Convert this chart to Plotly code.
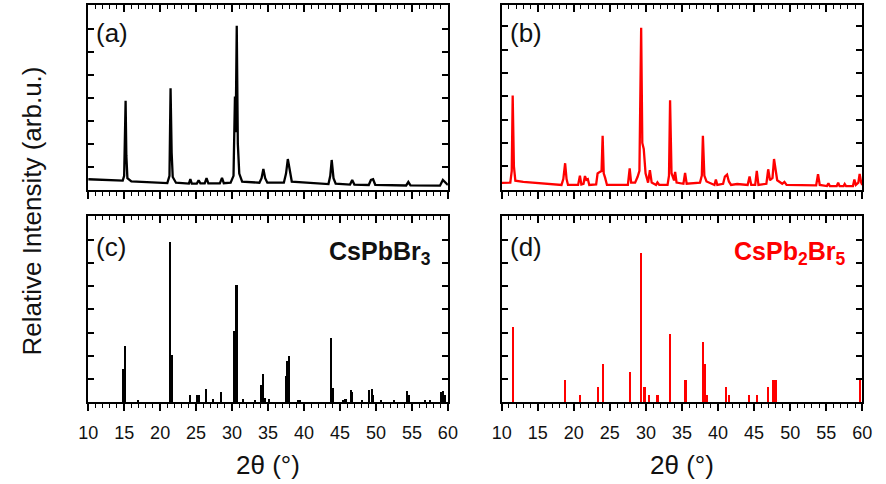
import plotly.graph_objects as go

# ---------------- data ----------------
# (a) CsPbBr3 measured pattern: 2theta (deg), relative intensity
a_x = [10.0, 12.0, 14.0, 14.8, 15.0, 15.12, 15.2, 15.3, 15.45, 16.0, 18.0, 20.0, 21.0, 21.3, 21.45, 21.6, 21.75,
       22.2, 23.5, 24.0, 24.2, 24.4, 25.1, 25.35, 25.6, 26.2, 26.45, 26.7, 28.3, 28.6, 28.85, 29.8, 30.2, 30.4,
       30.5, 30.65, 30.8, 31.0, 31.4, 33.8, 34.1, 34.35, 34.6, 34.9, 37.2, 37.5, 37.75, 38.0, 38.3, 43.4, 43.65,
       43.85, 44.1, 44.4, 46.4, 46.7, 47.0, 49.0, 49.3, 49.6, 49.9, 54.2, 54.5, 54.8, 58.9, 59.3, 59.7, 60.0]
a_y = [0.45, 0.43, 0.40, 0.39, 0.60, 3.20, 3.87, 1.50, 0.50, 0.36, 0.32, 0.28, 0.28, 0.60, 4.41, 1.60, 0.55,
       0.30, 0.25, 0.26, 0.46, 0.26, 0.26, 0.41, 0.27, 0.27, 0.50, 0.27, 0.27, 0.51, 0.28, 0.30, 0.60, 4.05,
       2.50, 7.14, 2.00, 0.70, 0.35, 0.30, 0.50, 0.90, 0.50, 0.30, 0.30, 0.70, 1.33, 0.80, 0.35, 0.24, 0.60,
       1.29, 0.50, 0.26, 0.22, 0.42, 0.22, 0.20, 0.42, 0.45, 0.21, 0.18, 0.33, 0.18, 0.17, 0.42, 0.28, 0.20]

# (b) CsPb2Br5 measured pattern
b_x = [10.0, 11.2, 11.4, 11.53, 11.7, 11.9, 13.0, 15.0, 17.0, 18.3, 18.55, 18.8, 19.0, 19.2, 20.6, 20.85, 21.05,
       21.35, 21.55, 21.75, 21.95, 22.15, 23.1, 23.3, 23.6, 23.85, 24.0, 24.15, 24.35, 24.6, 27.5, 27.75, 27.95,
       28.5, 28.85, 29.1, 29.34, 29.5, 29.7, 29.95, 30.3, 30.55, 30.8, 31.4, 31.6, 31.85, 33.0, 33.2, 33.35,
       33.55, 33.9, 34.05, 34.25, 35.2, 35.43, 35.65, 37.5, 37.75, 37.9, 38.1, 38.4, 39.5, 39.7, 39.9, 40.7,
       40.95, 41.25, 41.5, 41.8, 42.65, 44.1, 44.37, 44.6, 45.15, 45.37, 45.6, 46.7, 46.95, 47.2, 47.55, 47.76,
       47.95, 48.2, 48.9, 49.2, 49.5, 51.8, 53.6, 53.86, 54.1, 55.1, 55.3, 55.5, 56.45, 56.65, 56.85, 57.4,
       57.56, 57.75, 58.7, 58.9, 59.1, 59.45, 59.63, 59.85, 60.0]
b_y = [0.29, 0.30, 0.80, 4.03, 1.00, 0.38, 0.33, 0.28, 0.22, 0.20, 0.45, 1.13, 0.45, 0.20, 0.20, 0.60, 0.22,
       0.25, 0.58, 0.42, 0.45, 0.20, 0.22, 0.69, 0.76, 0.80, 2.31, 0.70, 0.50, 0.20, 0.20, 0.91, 0.30,
       0.30, 0.55, 0.80, 6.94, 2.00, 1.74, 0.70, 0.30, 0.83, 0.30, 0.20, 0.31, 0.20, 0.20, 0.60, 3.83,
       0.70, 0.40, 0.76, 0.30, 0.25, 0.71, 0.25, 0.30, 0.60, 2.31, 0.60, 0.35, 0.20, 0.43, 0.20, 0.25,
       0.56, 0.64, 0.35, 0.20, 0.24, 0.20, 0.56, 0.20, 0.20, 0.80, 0.20, 0.25, 0.87, 0.40, 0.50, 1.31,
       0.90, 0.40, 0.25, 0.33, 0.20, 0.18, 0.18, 0.66, 0.20, 0.15, 0.27, 0.15, 0.15, 0.30, 0.15, 0.15,
       0.24, 0.15, 0.15, 0.43, 0.20, 0.30, 0.67, 0.30, 0.20]

# (c) CsPbBr3 reference pattern (stick positions / heights)
c_pos = [14.85, 15.12, 17.0, 21.4, 21.64, 24.13, 25.1, 25.4, 26.35, 27.4, 28.5, 30.34, 30.65, 31.5, 33.27,
         34.05, 34.28, 34.55, 35.2, 37.5, 37.7, 37.9, 39.2, 39.5, 43.8, 44.1, 45.5, 45.8, 46.55, 46.75, 48.14,
         49.1, 49.45, 49.65, 50.7, 52.5, 54.35, 54.55, 56.8, 57.5, 59.1, 59.4, 59.6]
c_h = [1.42, 2.42, 0.05, 6.90, 2.03, 0.29, 0.29, 0.29, 0.55, 0.14, 0.42, 3.06, 5.05, 0.12, 0.10,
       0.72, 1.23, 0.18, 0.15, 1.13, 1.78, 2.00, 0.08, 0.08, 2.78, 0.61, 0.10, 0.12, 0.51, 0.44, 0.08,
       0.54, 0.55, 0.30, 0.05, 0.05, 0.46, 0.30, 0.08, 0.10, 0.44, 0.47, 0.31]

# (d) CsPb2Br5 reference pattern
d_pos = [11.53, 18.72, 20.8, 23.28, 24.0, 27.7, 29.24, 29.74, 30.37, 31.55, 33.3, 35.43, 37.82, 38.14, 38.4,
         41.07, 41.44, 44.28, 45.32, 46.86, 47.63, 47.9, 59.6]
d_h = [3.22, 0.97, 0.30, 0.65, 1.63, 1.30, 6.42, 0.65, 0.31, 0.31, 2.92, 0.97, 2.58, 1.63, 0.31,
       0.65, 0.31, 0.31, 0.31, 0.65, 0.97, 0.97, 0.97]

x_ticks = [10, 15, 20, 25, 30, 35, 40, 45, 50, 55, 60]
panel_labels = ["(a)", "(b)", "(c)", "(d)"]
phase_labels = ["CsPbBr<sub>3</sub>", "CsPb<sub>2</sub>Br<sub>5</sub>"]
x_title = "2θ (°)"
y_title = "Relative Intensity (arb.u.)"

BLACK = "#000000"
RED = "#ff0000"
W, H = 886, 484

def px(v):
    return v / W

def py(v):
    return 1 - v / H

dom_x = {1: [px(80), px(448)], 2: [px(503), px(872)], 3: [px(80), px(448)], 4: [px(503), px(872)]}
dom_y = {1: [py(189.6), py(5)], 2: [py(189.6), py(5)], 3: [py(402), py(216)], 4: [py(402), py(216)]}
y_rng = {1: [0, 8.04], 2: [0, 7.91], 3: [0, 8.04], 4: [0, 8.03]}

fig = go.Figure()
fig.add_trace(go.Scatter(x=a_x, y=a_y, mode="lines", line=dict(color=BLACK, width=2.3),
                         xaxis="x", yaxis="y", showlegend=False))
fig.add_trace(go.Scatter(x=b_x, y=b_y, mode="lines", line=dict(color=RED, width=2.3),
                         xaxis="x2", yaxis="y2", showlegend=False))
fig.add_trace(go.Bar(x=c_pos, y=c_h, width=0.3, marker=dict(color=BLACK, line=dict(width=0)),
                     xaxis="x3", yaxis="y3", showlegend=False))
fig.add_trace(go.Bar(x=d_pos, y=d_h, width=0.32, marker=dict(color=RED, line=dict(width=0)),
                     xaxis="x4", yaxis="y4", showlegend=False))
# empty traces so the top (inside-tick) axes are drawn
for i in range(1, 5):
    fig.add_trace(go.Scatter(x=[], y=[], xaxis=f"x{i+4}", yaxis=("y" if i == 1 else f"y{i}"),
                             showlegend=False, hoverinfo="skip"))

layout = dict(width=W, height=H, margin=dict(l=0, r=0, t=0, b=0), autosize=False,
              paper_bgcolor="white", plot_bgcolor="white", bargap=0,
              font=dict(family="Liberation Sans, Arial, sans-serif", color="#111"))

LW = 1.8
for i in range(1, 5):
    xs = "" if i == 1 else str(i)
    yname = "y" if i == 1 else f"y{i}"
    bottom_labels = i in (3, 4)
    layout[f"xaxis{xs}"] = dict(
        domain=dom_x[i], anchor=yname, range=[10, 60], tickmode="array", tickvals=x_ticks,
        ticks="outside", ticklen=7, tickwidth=1.5, tickcolor=BLACK,
        minor=dict(ticks="outside", dtick=1, tick0=10, ticklen=4, tickwidth=1.2, tickcolor=BLACK),
        showticklabels=bottom_labels, tickfont=dict(size=18, color="#111"), ticklabelstandoff=6,
        showline=True, linecolor=BLACK, linewidth=LW, showgrid=False, zeroline=False, mirror=False,
        fixedrange=True)
    layout[f"xaxis{i+4}"] = dict(
        overlaying=("x" if i == 1 else f"x{i}"), anchor=yname, side="top", range=[10, 60],
        tickmode="array", tickvals=x_ticks,
        ticks="inside", ticklen=7, tickwidth=1.5, tickcolor=BLACK,
        minor=dict(ticks="inside", dtick=1, tick0=10, ticklen=4, tickwidth=1.2, tickcolor=BLACK),
        showticklabels=False, showline=True, linecolor=BLACK, linewidth=LW,
        showgrid=False, zeroline=False)
    layout[f"yaxis{xs}"] = dict(
        domain=dom_y[i], anchor=("x" if i == 1 else f"x{i}"), range=y_rng[i], tick0=0, dtick=1,
        ticks="inside", ticklen=6, tickwidth=1.5, tickcolor=BLACK, mirror="ticks",
        showticklabels=False, showline=True, linecolor=BLACK, linewidth=LW,
        showgrid=False, zeroline=False, fixedrange=True)

anns = []
label_pos = [(86, 33), (510, 33), (86, 247), (509, 247)]
for lab, (lx, ly) in zip(panel_labels, label_pos):
    anns.append(dict(text=lab, x=px(lx), y=py(ly), xref="paper", yref="paper", xanchor="left",
                     yanchor="middle", showarrow=False, font=dict(size=26, color="#111")))
anns.append(dict(text="<b>" + phase_labels[0] + "</b>", x=px(433), y=py(253), xref="paper", yref="paper",
                 xanchor="right", yanchor="middle", showarrow=False, font=dict(size=25, color="#111")))
anns.append(dict(text="<b>" + phase_labels[1] + "</b>", x=px(856), y=py(253), xref="paper", yref="paper",
                 xanchor="right", yanchor="middle", showarrow=False, font=dict(size=25, color=RED)))
for cx in (264, 688):
    anns.append(dict(text=x_title, x=px(cx), y=py(465), xref="paper", yref="paper", xanchor="center",
                     yanchor="middle", showarrow=False, font=dict(size=26, color="#111")))
anns.append(dict(text=y_title, x=px(22), y=py(211), xref="paper", yref="paper", xanchor="center",
                 yanchor="middle", textangle=-90, showarrow=False, font=dict(size=26, color="#111")))
layout["annotations"] = anns

fig.update_layout(**layout)
fig.write_html("out.html", config={"displayModeBar": False})
